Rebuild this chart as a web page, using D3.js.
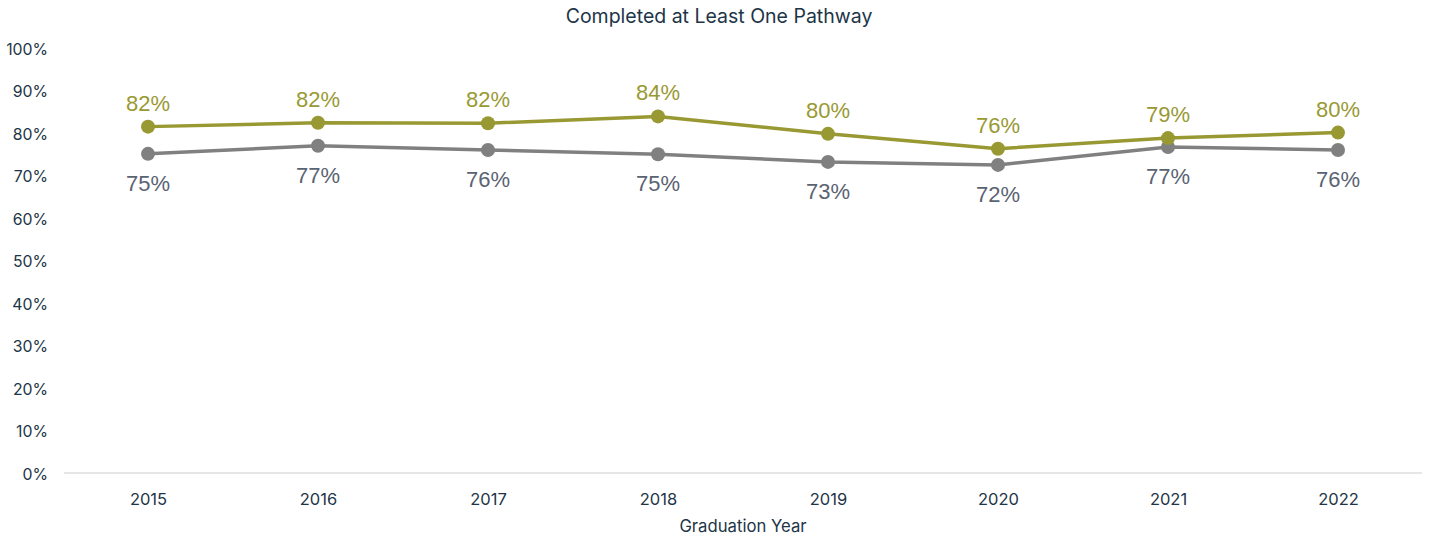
<!DOCTYPE html>
<html><head><meta charset="utf-8">
<script src="https://cdn.jsdelivr.net/npm/d3@7"></script>
<style>body{margin:0;background:#fff;} svg{display:block;}</style>
</head><body>
<svg id="c" width="1432" height="542"></svg>
<script>
const years = ["2015","2016","2017","2018","2019","2020","2021","2022"];
const seriesA = [81.5, 82.4, 82.3, 83.9, 79.8, 76.3, 78.8, 80.1];
const seriesALabels = ["82%","82%","82%","84%","80%","76%","79%","80%"];
const seriesB = [75.1, 77.0, 76.0, 75.0, 73.2, 72.5, 76.7, 76.0];
const seriesBLabels = ["75%","77%","76%","75%","73%","72%","77%","76%"];
const yTicks = [0,10,20,30,40,50,60,70,80,90,100];

const svg = d3.select("#c");
const x = d3.scalePoint().domain(years).range([148, 1338]);
const y = d3.scaleLinear().domain([0,100]).range([473, 48]);
const axisFont = "Inter, 'Open Sans', sans-serif";
const axisColor = "#1d3547";

svg.append("text").attr("x", 719).attr("y", 23).attr("text-anchor","middle")
  .attr("font-family", axisFont).attr("font-size", 19.5).attr("fill", axisColor)
  .text("Completed at Least One Pathway");

// baseline
svg.append("line").attr("x1", 64).attr("x2", 1422).attr("y1", y(0)).attr("y2", y(0))
  .attr("stroke", "#e6e6e6").attr("stroke-width", 2);

const ya = d3.axisLeft(y).tickValues(yTicks).tickFormat(d => d + "%").tickSize(0).tickPadding(0);
const gy = svg.append("g").attr("transform","translate(48,1)").call(ya);
gy.select(".domain").remove();
gy.selectAll("text").attr("font-family", axisFont).attr("font-size", 15.8).attr("fill", axisColor);

const xa = d3.axisBottom(x).tickSize(0).tickPadding(0);
const gx = svg.append("g").attr("transform","translate(0,493)").call(xa);
gx.select(".domain").remove();
gx.selectAll("text").attr("font-family", axisFont).attr("font-size", 16.5).attr("fill", axisColor);

svg.append("text").attr("x", 743).attr("y", 532).attr("text-anchor","middle")
  .attr("font-family", axisFont).attr("font-size", 16.7).attr("fill", axisColor)
  .text("Graduation Year");

const line = d3.line().x((d,i) => x(years[i])).y(d => y(d));
function drawSeries(vals, labels, color, labelColor, dy) {
  svg.append("path").datum(vals).attr("d", line).attr("fill","none")
    .attr("stroke", color).attr("stroke-width", 3.5);
  svg.append("g").selectAll("circle").data(vals).join("circle")
    .attr("cx", (d,i) => x(years[i])).attr("cy", d => y(d)).attr("r", 7).attr("fill", color);
  svg.append("g").selectAll("text").data(vals).join("text")
    .attr("x", (d,i) => x(years[i])).attr("y", d => y(d) + dy)
    .attr("text-anchor","middle").attr("font-family","'Liberation Sans', Arial, sans-serif")
    .attr("font-size", 22).attr("fill", labelColor).text((d,i) => labels[i]);
}
drawSeries(seriesB, seriesBLabels, "#808080", "#5a6372", 37);
drawSeries(seriesA, seriesALabels, "#999933", "#999933", -16);
</script>
</body></html>
